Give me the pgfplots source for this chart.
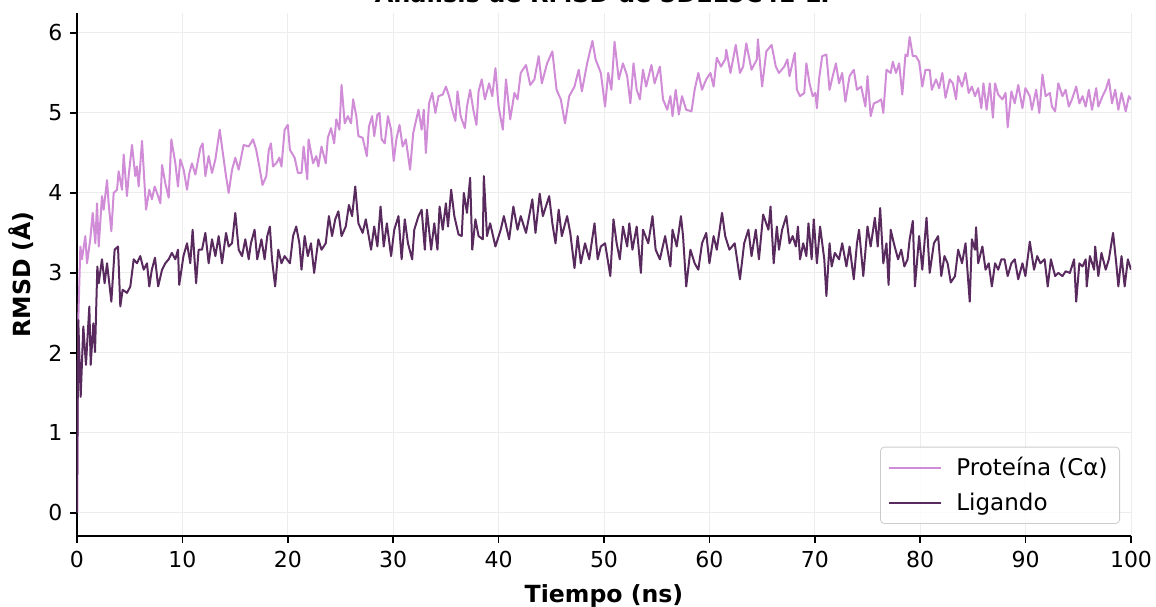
\documentclass[border=0pt]{standalone}
\usepackage{pgfplots}
\pgfplotsset{compat=1.18}
\usepackage{fontspec}
\setmainfont{DejaVu Sans}
\definecolor{protcol}{RGB}{208,140,214}
\definecolor{ligcol}{RGB}{88,42,94}

% RMSD data (ns, Angstrom)
\pgfplotstableread{
x y
0 0
0.12 2.4
0.32 3.33
0.47 3.17
0.79 3.46
0.95 3.12
1.26 3.42
1.49 3.75
1.74 3.37
1.9 3.87
2.06 3.33
2.37 3.96
2.53 3.79
2.85 4.16
3.0 3.87
3.26 3.52
3.48 4.0
3.8 4.04
3.95 4.27
4.27 4.04
4.43 4.48
4.74 3.96
4.9 4.21
5.22 4.6
5.53 4.21
5.69 4.33
5.85 4.08
6.17 4.65
6.55 3.79
6.86 4.04
7.11 3.92
7.37 4.08
7.59 4.0
7.91 3.87
8.07 4.35
8.38 4.12
8.7 3.94
8.95 4.67
9.33 4.37
9.58 4.08
9.8 4.42
10.12 4.29
10.44 4.04
10.66 4.25
10.91 4.37
11.23 4.23
11.7 4.56
11.92 4.62
12.18 4.21
12.49 4.46
12.81 4.25
13.13 4.42
13.54 4.79
13.92 4.42
14.14 4.21
14.39 4.0
14.71 4.29
15.02 4.44
15.34 4.29
15.81 4.6
16.29 4.58
16.7 4.67
17.0 4.54
17.3 4.33
17.6 4.1
17.96 4.21
18.2 4.54
18.4 4.62
18.6 4.33
18.9 4.37
19.2 4.44
19.4 4.33
19.7 4.79
20.0 4.85
20.2 4.54
20.65 4.44
20.96 4.25
21.3 4.25
21.5 4.58
21.85 4.17
21.97 4.67
22.4 4.37
22.7 4.46
22.9 4.33
23.2 4.58
23.6 4.37
23.8 4.69
24.1 4.81
24.4 4.62
24.6 4.92
24.9 4.79
25.1 5.35
25.4 4.87
25.7 4.96
26.0 4.87
26.2 5.17
26.5 4.96
26.7 4.71
27.1 4.69
27.5 4.46
27.7 4.83
28.0 4.96
28.2 4.71
28.5 4.98
28.7 5.0
28.9 4.67
29.2 4.62
29.5 4.96
29.8 4.79
30.05 4.4
30.3 4.67
30.6 4.85
30.9 4.58
31.2 4.67
31.6 4.29
31.9 4.75
32.4 5.04
32.7 4.79
32.9 5.04
33.1 4.5
33.4 5.12
33.7 5.25
34.0 5.0
34.3 5.21
34.7 5.23
35.0 5.33
35.3 5.21
35.6 5.04
35.9 4.9
36.1 5.27
36.4 4.96
36.8 4.81
37.0 5.08
37.3 5.29
37.6 5.04
37.9 4.85
38.1 5.27
38.4 5.42
38.7 5.17
39.1 5.37
39.4 5.21
39.7 5.56
40.0 5.08
40.4 4.79
40.7 5.42
41.1 4.92
41.5 5.25
41.8 5.17
42.1 5.5
42.6 5.6
43.0 5.35
43.4 5.42
43.8 5.71
44.1 5.37
44.6 5.62
45.1 5.77
45.5 5.29
45.9 5.17
46.3 4.87
46.7 5.21
47.2 5.33
47.6 5.54
47.9 5.27
48.4 5.62
48.9 5.9
49.2 5.67
49.7 5.5
50.1 5.08
50.4 5.5
50.7 5.29
51.0 5.89
51.4 5.42
51.8 5.62
52.2 5.46
52.5 5.12
52.8 5.62
53.1 5.29
53.4 5.17
53.7 5.54
54.0 5.33
54.5 5.6
54.8 5.37
55.3 5.58
55.6 5.17
56.0 5.04
56.3 5.21
56.5 4.96
56.8 5.29
57.1 4.98
57.4 5.21
57.8 5.04
58.3 5.02
58.6 5.29
58.95 5.5
59.3 5.29
59.7 5.42
60.1 5.5
60.4 5.33
60.7 5.69
61.1 5.58
61.5 5.67
61.6 5.79
62.0 5.5
62.5 5.85
62.9 5.5
63.2 5.58
63.5 5.87
64.0 5.54
64.5 5.67
64.6 5.92
65.0 5.33
65.4 5.77
65.9 5.85
66.3 5.58
66.6 5.5
67.1 5.58
67.4 5.67
67.6 5.46
68.1 5.75
68.3 5.29
68.6 5.21
69.0 5.25
69.2 5.62
69.5 5.37
69.8 5.21
70.05 5.25
70.2 5.06
70.4 5.42
70.7 5.71
71.1 5.73
71.4 5.29
71.7 5.46
72.0 5.62
72.3 5.37
72.6 5.5
72.9 5.14
73.3 5.46
73.7 5.54
74.0 5.29
74.4 5.33
74.8 5.08
75.0 5.46
75.3 4.96
75.6 5.12
75.97 5.14
76.3 5.17
76.5 5.0
76.8 5.54
77.2 5.5
77.4 5.64
77.7 5.5
78.0 5.62
78.3 5.23
78.6 5.73
78.8 5.71
79.0 5.95
79.3 5.71
79.6 5.71
79.9 5.64
80.2 5.33
80.5 5.54
80.9 5.54
81.1 5.29
81.5 5.42
81.8 5.31
82.1 5.5
82.4 5.19
82.8 5.42
83.1 5.37
83.4 5.17
83.6 5.46
83.97 5.33
84.3 5.5
84.6 5.25
84.9 5.33
85.2 5.21
85.5 5.31
85.8 5.06
86.0 5.37
86.3 5.04
86.6 5.37
86.9 4.94
87.1 5.37
87.4 5.23
87.8 5.17
88.1 5.25
88.3 4.82
88.65 5.27
88.97 5.12
89.3 5.35
89.7 5.06
89.98 5.31
90.4 5.21
90.6 5.04
91.0 5.29
91.3 5.0
91.6 5.48
91.9 5.21
92.3 5.25
92.5 5.08
92.8 5.02
93.1 5.37
93.5 5.21
93.8 5.29
94.1 5.08
94.4 5.17
94.8 5.33
95.1 5.12
95.4 5.21
95.7 5.08
96.0 5.29
96.3 5.04
96.7 5.31
96.9 5.08
97.3 5.21
97.6 5.29
97.9 5.42
98.2 5.12
98.5 5.29
98.8 5.04
99.1 5.25
99.5 5.02
99.8 5.21
100.0 5.17
}\protein

\pgfplotstableread{
x y
0 0
0.12 2.41
0.35 1.45
0.6 2.33
0.85 1.85
1.17 2.58
1.3 1.85
1.55 2.37
1.71 2.01
1.93 3.08
2.06 2.87
2.37 3.17
2.62 2.87
2.85 3.12
3.26 2.64
3.57 3.29
3.89 3.33
4.11 2.58
4.33 2.79
4.74 2.75
5.06 2.83
5.38 3.17
5.69 3.12
6.0 3.21
6.33 3.04
6.64 3.12
6.86 2.83
7.1 3.04
7.4 3.19
7.7 2.83
8.07 3.04
8.38 3.12
8.7 3.17
9.0 3.25
9.33 3.17
9.58 3.29
9.7 2.85
10.1 3.21
10.44 3.37
10.75 3.12
10.97 3.54
11.3 2.87
11.54 3.29
11.86 3.29
12.18 3.5
12.49 3.12
12.81 3.42
13.13 3.21
13.44 3.46
13.76 3.12
14.14 3.5
14.39 3.33
14.71 3.37
15.02 3.75
15.34 3.29
15.66 3.21
15.97 3.42
16.29 3.17
16.5 3.37
16.85 3.54
17.1 3.17
17.5 3.42
17.8 3.17
18.05 3.46
18.3 3.58
18.5 3.17
18.8 2.83
19.1 3.29
19.4 3.12
19.7 3.21
20.2 3.12
20.5 3.46
20.8 3.58
21.1 3.37
21.3 3.04
21.6 3.46
21.9 3.21
22.2 3.37
22.5 3.0
22.9 3.42
23.2 3.29
23.6 3.37
23.9 3.71
24.2 3.46
24.5 3.67
24.8 3.77
25.1 3.46
25.5 3.58
25.8 3.85
26.1 3.71
26.4 4.08
26.7 3.62
27.1 3.5
27.4 3.67
27.9 3.29
28.2 3.58
28.5 3.33
28.8 3.83
29.1 3.33
29.4 3.62
29.8 3.21
30.1 3.54
30.5 3.71
30.8 3.17
31.1 3.67
31.4 3.37
31.8 3.17
32.0 3.54
32.4 3.71
32.7 3.79
33.0 3.29
33.2 3.79
33.6 3.29
33.9 3.62
34.2 3.29
34.4 3.83
34.7 3.54
35.0 3.87
35.2 3.58
35.5 4.04
35.8 3.71
36.2 3.48
36.5 3.46
36.7 4.0
37.0 3.75
37.3 4.19
37.5 3.29
37.8 3.67
38.1 3.46
38.5 3.42
38.6 4.21
38.9 3.46
39.2 3.62
39.7 3.33
40.2 3.54
40.5 3.71
41.0 3.42
41.4 3.83
41.8 3.54
42.1 3.71
42.6 3.5
42.9 3.71
43.2 3.92
43.5 3.5
43.9 3.99
44.2 3.71
44.8 3.96
45.1 3.62
45.4 3.37
45.7 3.79
46.0 3.46
46.5 3.71
46.8 3.5
47.2 3.06
47.5 3.46
47.8 3.12
48.2 3.37
48.6 3.17
49.1 3.62
49.4 3.17
49.7 3.33
50.1 3.37
50.6 2.96
50.9 3.67
51.2 3.37
51.5 3.17
51.8 3.58
52.2 3.33
52.4 3.62
52.7 3.29
53.1 3.58
53.5 3.0
53.7 3.54
54.2 3.37
54.6 3.71
54.9 3.29
55.3 3.17
55.8 3.46
56.3 3.08
56.5 3.54
56.9 3.33
57.3 3.71
57.5 3.46
57.8 2.83
58.2 3.29
58.6 3.12
58.95 3.04
59.3 3.37
59.7 3.5
60.0 3.12
60.4 3.46
60.7 3.29
61.2 3.75
61.5 3.46
61.9 3.29
62.4 3.37
62.9 2.92
63.3 3.37
63.7 3.54
64.0 3.21
64.4 3.54
64.7 3.17
65.1 3.73
65.6 3.54
65.8 3.83
66.1 3.12
66.4 3.58
66.6 3.29
66.9 3.54
67.3 3.71
67.6 3.37
67.9 3.46
68.2 3.33
68.4 3.58
68.6 3.17
68.9 3.37
69.2 3.21
69.4 3.62
69.7 3.17
69.9 3.67
70.2 3.12
70.5 3.58
70.9 3.17
71.1 2.71
71.4 3.37
71.6 3.08
71.9 3.25
72.3 3.17
72.6 3.37
73.0 3.08
73.3 3.33
73.7 2.92
74.0 3.37
74.2 3.54
74.6 2.96
75.0 3.58
75.3 3.33
75.7 3.69
75.97 3.33
76.2 3.81
76.5 3.12
76.8 3.37
77.0 2.85
77.2 3.54
77.5 3.37
77.9 3.17
78.2 3.29
78.5 3.08
78.8 3.17
79.0 3.42
79.3 3.65
79.5 2.83
79.9 3.46
80.2 3.04
80.6 3.69
80.9 3.0
81.3 3.37
81.7 3.46
82.0 2.96
82.3 3.21
82.6 3.12
82.9 2.88
83.3 2.96
83.6 3.29
83.97 3.12
84.3 3.37
84.5 3.0
84.7 2.64
84.9 3.42
85.2 3.29
85.3 3.57
85.5 3.12
85.9 3.33
86.2 3.04
86.5 3.12
86.8 2.83
87.1 3.12
87.4 3.04
87.7 3.17
88.0 3.17
88.3 2.96
88.65 3.12
88.97 3.17
89.3 2.92
89.7 3.12
89.98 2.96
90.4 3.39
90.8 3.04
91.1 3.21
91.4 3.12
91.8 3.17
92.1 2.83
92.4 3.17
92.8 2.96
93.1 3.0
93.5 2.96
93.8 3.02
94.2 3.0
94.6 3.17
94.8 2.64
95.1 3.12
95.4 3.08
95.7 3.17
95.8 2.83
96.1 3.21
96.5 3.04
96.6 3.33
96.9 2.96
97.2 3.25
97.6 3.04
97.9 3.17
98.3 3.5
98.6 3.12
98.8 2.83
99.1 3.21
99.4 2.83
99.7 3.17
100.0 3.04
}\ligand

\begin{document}
\fontsize{11}{13.2}\selectfont
\begin{tikzpicture}
\begin{axis}[
    name=ax,
    scale only axis,
    width=527pt, height=261.5pt,
    xmin=0, xmax=100,
    ymin=-0.29, ymax=6.25,
    axis x line*=bottom, axis y line*=left,
    axis line style={line width=0.8pt},
    xtick={0,10,...,100}, ytick={0,1,...,6},
    tick align=outside,
    major tick length=3.5pt,
    tick style={black, line width=0.8pt},
    grid=major,
    grid style={line width=0.5pt, black!7},
    tick label style={font=\fontsize{11}{13.2}\selectfont},
    /pgf/number format/assume math mode=true,
    xlabel={\bfseries Tiempo (ns)},
    ylabel={\bfseries RMSD (Å)},
    xlabel style={font=\fontsize{11.8}{14}\selectfont, yshift=-1pt},
    ylabel style={font=\fontsize{11.8}{14}\selectfont},
    legend style={at={(1,0)}, anchor=south east, xshift=-5.5pt, yshift=6pt,
        draw=black!20, rounded corners=2pt, fill=white, fill opacity=0.8,
        text opacity=1, draw opacity=1, font=\fontsize{11.5}{13.8}\selectfont,
        inner xsep=4pt, inner ysep=3pt, row sep=3pt},
    legend cell align=left,
    legend image code/.code={\draw[#1] (0pt,0pt) -- (26pt,0pt);
        \path (31pt,0pt);},
]
\addplot[protcol, line width=1pt, line join=round] table {\protein};
\addlegendentry{Proteína (Cα)}
\addplot[ligcol, line width=1pt, line join=round] table {\ligand};
\addlegendentry{Ligando}
\end{axis}
\node[anchor=base, font=\bfseries\fontsize{12}{14}\selectfont]
    at ([yshift=5.3pt]ax.north) {Análisis de RMSD de 5DEL5C4E-LT};
\pgfresetboundingbox
\path ([xshift=-38.5pt,yshift=-35.5pt]ax.south west)
    rectangle ([xshift=12.5pt,yshift=6.5pt]ax.north east);
\end{tikzpicture}
\end{document}
